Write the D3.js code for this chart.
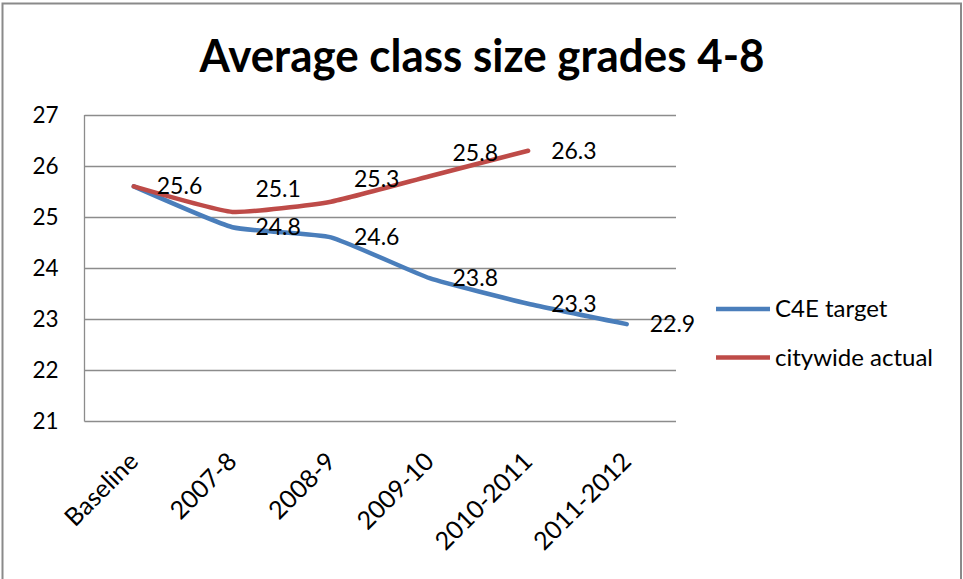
<!DOCTYPE html>
<html><head><meta charset="utf-8">
<script src="https://cdn.jsdelivr.net/npm/d3@7"></script>
<style>
html,body{margin:0;padding:0;background:#fff;}
svg{display:block;}
text{font-family:Lato,"Open Sans",sans-serif;fill:#000;}
</style></head>
<body>
<svg id="chart" width="963" height="579"></svg>
<script>
const title = "Average class size grades 4-8";
const categories = ["Baseline","2007-8","2008-9","2009-10","2010-2011","2011-2012"];
const c4eTarget = [25.6, 24.8, 24.6, 23.8, 23.3, 22.9];
const citywideActual = [25.6, 25.1, 25.3, 25.8, 26.3];
const yTicks = [21,22,23,24,25,26,27];
const seriesNames = ["C4E target","citywide actual"];
const seriesColors = ["#4A7EBB","#BE4B48"];
// label placement: true = label above point, false = label centred beside point
const actualLabelAbove = [false, true, true, true, false];

(function(){
const svg = d3.select("#chart");
const pLeft = 84.5, pRight = 676, pTop = 115, pBottom = 421;

// chart border
svg.append("rect").attr("x",2.5).attr("y",3.5).attr("width",958.5).attr("height",600)
  .attr("fill","none").attr("stroke","#8a8a8a").attr("stroke-width",2);

svg.append("text").attr("x",482).attr("y",72).attr("text-anchor","middle")
  .attr("font-size",46).attr("font-weight","bold")
  .attr("textLength",565).attr("lengthAdjust","spacingAndGlyphs")
  .text(title);

const x = d3.scaleBand().domain(categories).range([pLeft,pRight]);
const y = d3.scaleLinear().domain([21,27]).range([pBottom,pTop]);
const cx = c => x(c) + x.bandwidth()/2;

// gridlines
svg.append("g").selectAll("line").data(yTicks).join("line")
  .attr("x1",pLeft).attr("x2",pRight)
  .attr("y1",d=>Math.round(y(d))+0.5).attr("y2",d=>Math.round(y(d))+0.5)
  .attr("stroke","#8c8c8c").attr("stroke-width",1.3);
svg.append("line").attr("x1",pLeft).attr("x2",pLeft).attr("y1",pTop).attr("y2",pBottom+0.5)
  .attr("stroke","#8c8c8c").attr("stroke-width",1.3);

// y axis labels
const yAxis = d3.axisLeft(y).tickValues(yTicks).tickSize(0).tickPadding(0).tickFormat(d3.format("d"));
const gy = svg.append("g").attr("transform",`translate(${pLeft-26},0)`).call(yAxis);
gy.select(".domain").remove();
gy.selectAll("text").attr("font-size",22.5).attr("font-family","Lato").attr("fill","#000").attr("dy","0.35em");

// x axis labels
const xAxis = d3.axisBottom(x).tickSize(0).tickPadding(0);
const gx = svg.append("g").attr("transform",`translate(0,${pBottom})`).call(xAxis);
gx.select(".domain").remove();
gx.selectAll("text").attr("font-size",25).attr("font-family","Lato").attr("fill","#000")
  .attr("text-anchor","end").attr("dy",null).attr("y",0)
  .attr("transform","translate(6,42) rotate(-45)");

const line = d3.line().x((d,i)=>cx(categories[i])).y(d=>y(d)).curve(d3.curveCardinal.tension(0.55));

svg.append("path").datum(c4eTarget).attr("d",line).attr("fill","none")
  .attr("stroke",seriesColors[0]).attr("stroke-width",4.5).attr("stroke-linejoin","round").attr("stroke-linecap","round");
svg.append("path").datum(citywideActual).attr("d",line).attr("fill","none")
  .attr("stroke",seriesColors[1]).attr("stroke-width",4.5).attr("stroke-linejoin","round").attr("stroke-linecap","round");

// data labels (a label identical in place and value to the other series' label is shown once)
svg.append("g").selectAll("text").data(c4eTarget).join("text")
  .attr("x",(d,i)=>cx(categories[i])+23).attr("y",d=>y(d)).attr("dy","0.35em")
  .attr("font-size",23).text(d=>d.toFixed(1));
const actualShown = citywideActual.map((d,i)=>({d,i}))
  .filter(o=>!( !actualLabelAbove[o.i] && c4eTarget[o.i]===o.d));
svg.append("g").selectAll("text").data(actualShown).join("text")
  .attr("x",o=>cx(categories[o.i])+23).attr("y",o=>y(o.d)-(actualLabelAbove[o.i]?23:0)).attr("dy","0.35em")
  .attr("font-size",23).text(o=>o.d.toFixed(1));

// legend
const lg = svg.append("g").selectAll("g").data(seriesNames).join("g")
  .attr("transform",(d,i)=>`translate(716,${309+i*48.5})`);
lg.append("line").attr("x1",0).attr("x2",54).attr("y1",0).attr("y2",0)
  .attr("stroke",(d,i)=>seriesColors[i]).attr("stroke-width",4.5);
lg.append("text").attr("x",59).attr("y",0).attr("dy","0.35em").attr("font-size",24).text(d=>d);
})();
</script>
</body></html>
